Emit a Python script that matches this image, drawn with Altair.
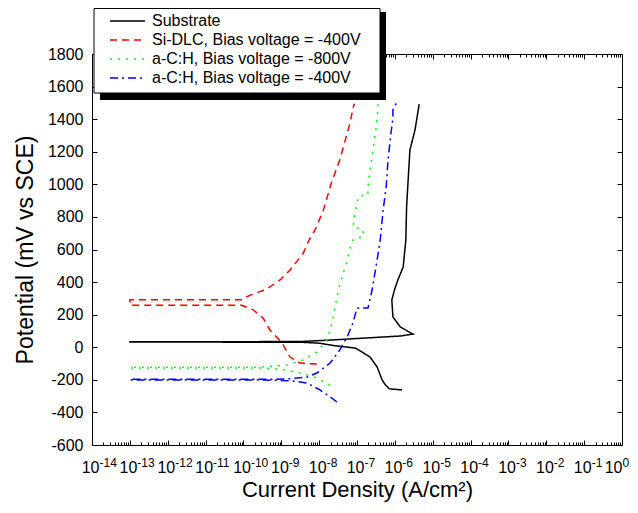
import altair as alt
import pandas as pd

FONT = "Liberation Sans"

series_names = [
    "Substrate",
    "Si-DLC, Bias voltage = -400V",
    "a-C:H, Bias voltage = -800V",
    "a-C:H, Bias voltage = -400V",
]
series_colors = ["#000000", "#ff0000", "#00ff00", "#0000ff"]
series_dashes = [[1, 0], [7, 5], [2, 6], [8, 4, 2, 4]]

# Substrate (black)
sub_v = [-262, -255, -230, -200, -121, -60, -29, -5, 10, 25, 31, 32, 33, 35, 45, 69, 81,
         124, 186, 290, 360, 413, 493, 658, 861, 1070, 1211, 1333, 1493]
sub_i = [1.55e-6, 7.1e-7, 5.6e-7, 4.6e-7, 3.4e-7, 2.2e-7, 1.35e-7, 8.9e-8, 2.5e-8, 1.0e-8, 3.2e-9,
         1e-13, 1e-13, 3.2e-9, 2.3e-8, 1.4e-6, 3.0e-6,
         1.4e-6, 8.9e-7, 8.3e-7, 1.0e-6, 1.2e-6, 1.66e-6, 1.95e-6, 2.04e-6, 2.3e-6, 2.5e-6,
         3.4e-6, 4.4e-6]

# Si-DLC, -400 V (red)
red_v = [-103, -97, -60, 26, 106, 180, 230, 250, 258, 258, 292, 292, 305, 330, 355, 413, 474,
         577, 658, 720, 842, 1008, 1149, 1375, 1470, 1495]
red_i = [8.7e-9, 3.1e-9, 1.7e-9, 1.05e-9, 5.0e-10, 3.3e-10, 1.8e-10, 1.1e-10, 8.9e-11, 1e-13,
         1e-13, 8.9e-11, 1.1e-10, 1.9e-10, 4.0e-10, 9.3e-10, 1.7e-9,
         3.8e-9, 5.4e-9, 7.8e-9, 1.3e-8, 2.1e-8, 3.5e-8, 6.5e-8, 7.9e-8, 8.5e-8]

# a-C:H, -800 V (green)
grn_v = [-232, -211, -181, -158, -140, -130, -127, -127, -122, -122, -120, -109, -78, -29, 44,
         167, 351, 536, 648, 671, 677, 720, 732, 738, 824, 885, 928, 935, 984, 1088, 1168,
         1254, 1346, 1413, 1456, 1495]
grn_i = [1.95e-8, 1.3e-8, 7.1e-9, 3.1e-9, 1.4e-9, 5.0e-10, 2.5e-10, 1e-13, 1e-13, 2.5e-10,
         4.2e-10, 1.4e-9, 3.7e-9, 8.7e-9, 1.6e-8, 2.3e-8, 3.2e-8, 5.5e-8, 7.2e-8, 8.9e-8,
         1.45e-7, 1.45e-7, 1.07e-7, 7.8e-8, 8.9e-8, 1.0e-7, 1.12e-7, 1.95e-7, 1.95e-7, 2.2e-7,
         2.5e-7, 2.8e-7, 3.2e-7, 3.4e-7, 3.55e-7, 3.6e-7]

# a-C:H, -400 V (blue)
blu_v = [-336, -305, -262, -220, -207, -202, -201, -201, -197, -197, -195, -183, -158, -97, -17,
         63, 149, 241, 241, 351, 536, 658, 842, 984, 1149, 1315, 1407, 1456, 1487, 1500]
blu_i = [2.95e-8, 1.95e-8, 1.05e-8, 4.8e-9, 2.0e-9, 6.3e-10, 2.5e-10, 1e-13, 1e-13, 2.5e-10,
         1.4e-9, 4.8e-9, 8.7e-9, 1.95e-8, 3.5e-8, 5.5e-8, 7.8e-8, 1.0e-7, 1.95e-7, 2.5e-7,
         3.4e-7, 4.1e-7, 4.9e-7, 5.9e-7, 6.6e-7, 7.9e-7, 8.9e-7, 8.9e-7, 1.0e-6, 1.15e-6]

x_major = [1e-14, 1e-13, 1e-12, 1e-11, 1e-10, 1e-9, 1e-8, 1e-7, 1e-6, 1e-5, 1e-4, 1e-3, 1e-2, 1e-1, 1.0]
x_minor = [m * d for d in x_major[:-1] for m in range(2, 10)]
y_values = [-600, -400, -200, 0, 200, 400, 600, 800, 1000, 1200, 1400, 1600, 1800]

rows = []
for name, vs, cs in zip(series_names, [sub_v, red_v, grn_v, blu_v], [sub_i, red_i, grn_i, blu_i]):
    for k, (v, c) in enumerate(zip(vs, cs)):
        rows.append({"series": name, "V": v, "I": c, "k": k})
df = pd.DataFrame(rows)

MAJ = "(abs(log(datum.value)/LN10 - round(log(datum.value)/LN10)) < 0.001)"
LOFF = {"expr": "datum.value > 0.5 ? 0 : 7"}
xscale = alt.Scale(type="log", domain=[1e-14, 1])
yscale = alt.Scale(domain=[-600, 1800], nice=False)

leg = dict(orient="none", legendX=27.5, legendY=-41, title=None,
           symbolType="M-3.5,0H3.5", symbolSize=100, symbolStrokeWidth=1.5,
           labelFontSize=16, labelFont=FONT, labelColor="black", labelOffset=16.5,
           rowPadding=3, padding=0, labelLimit=500)

lines = alt.Chart(df).mark_line(strokeWidth=1.5).encode(
    x=alt.X("I:Q", scale=xscale,
            axis=alt.Axis(orient="bottom", values=x_major + x_minor,
                          tickSize={"expr": MAJ + " ? -5 : -3"},
                          labelExpr=MAJ + " ? '10' : ''", labelAlign="right", labelOffset=LOFF,
                          labelBaseline="alphabetic", labelFontSize=16, labelPadding=32,
                          labelOverlap=False, labelFlush=False, domain=False, grid=False,
                          title="Current Density (A/cm²)", titleFontSize=22,
                          titleFontWeight="normal", titlePadding=2)),
    y=alt.Y("V:Q", scale=yscale,
            axis=alt.Axis(orient="left", values=y_values, tickSize={"expr": "-5"},
                          labelExpr="'' + datum.value", labelFontSize=16, labelPadding=14,
                          labelFlush=False, labelOverlap=False, domain=False, grid=False,
                          title="Potential (mV vs SCE)", titleFontSize=23,
                          titleFontWeight="normal", titlePadding=10)),
    color=alt.Color("series:N", scale=alt.Scale(domain=series_names, range=series_colors),
                    legend=alt.Legend(**leg)),
    strokeDash=alt.StrokeDash("series:N", scale=alt.Scale(domain=series_names, range=series_dashes),
                              legend=alt.Legend(**leg)),
    order=alt.Order("k:Q"),
)

expo = alt.Chart(df).mark_point(opacity=0).encode(
    x=alt.X("I:Q", scale=xscale,
            axis=alt.Axis(orient="bottom", values=x_major, ticks=False, domain=False, grid=False,
                          labelExpr="'' + round(log(datum.value)/LN10)", labelAlign="left",
                          labelOffset=LOFF, labelBaseline="alphabetic", labelFontSize=12,
                          labelPadding=21, labelOverlap=False, labelFlush=False, title=None)),
    y=alt.Y("V:Q", scale=yscale,
            axis=alt.Axis(orient="right", values=y_values, tickSize={"expr": "-5"},
                          labels=False, domain=False, grid=False, title=None)),
)

top = alt.Chart(df).mark_point(opacity=0).encode(
    x=alt.X("I:Q", scale=xscale,
            axis=alt.Axis(orient="top", values=x_major + x_minor,
                          tickSize={"expr": MAJ + " ? -5 : -3"},
                          labels=False, domain=False, grid=False, title=None)),
    y=alt.Y("V:Q", scale=yscale, axis=None),
)

one = pd.DataFrame({"a": [0]})
shadow = alt.Chart(one).mark_rect(color="black").encode(
    x=alt.value(8), x2=alt.value(294), y=alt.value(-42), y2=alt.value(46))
box = alt.Chart(one).mark_rect(fill="white", stroke="black", strokeWidth=1).encode(
    x=alt.value(2), x2=alt.value(288), y=alt.value(-45.5), y2=alt.value(39))

chart = alt.layer(shadow, box, lines, expo, top).resolve_axis(
    x="independent", y="independent"
).properties(
    width=530, height=391,
    padding={"left": 84, "top": 46, "right": 8, "bottom": 62},
    autosize=alt.AutoSizeParams(type="none"),
    background="white",
).configure_view(stroke="black", strokeWidth=1).configure_axis(
    labelFont=FONT, titleFont=FONT, labelColor="black", titleColor="black", tickColor="black"
).configure_legend(labelFont=FONT)

chart.save("out.html", embed_options={"renderer": "svg", "actions": False})
